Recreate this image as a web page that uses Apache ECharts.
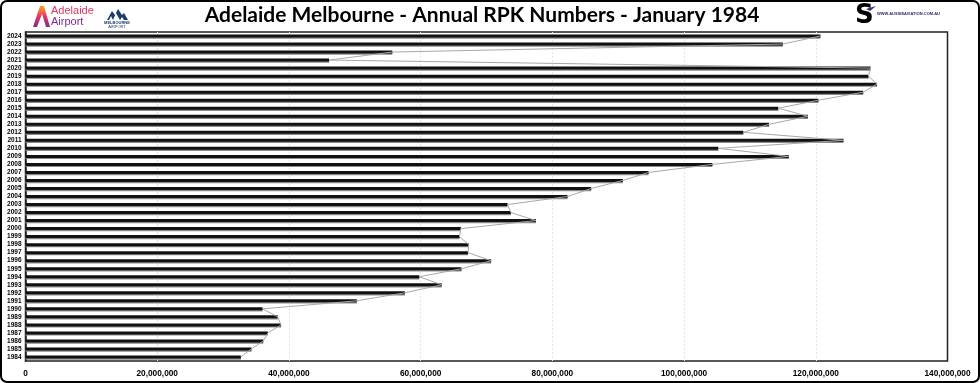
<!DOCTYPE html>
<html>
<head>
<meta charset="utf-8">
<script src="https://cdn.jsdelivr.net/npm/echarts@6/dist/echarts.min.js"></script>
<style>html,body{margin:0;padding:0;background:#fff;}#c{width:980px;height:383px;}</style>
</head>
<body>
<div id="c"></div>
<script>
const years = ['1984','1985','1986','1987','1988','1989','1990','1991','1992','1993','1994','1995','1996','1997','1998','1999','2000','2001','2002','2003','2004','2005','2006','2007','2008','2009','2010','2011','2012','2013','2014','2015','2016','2017','2018','2019','2020','2021','2022','2023','2024'];
const rpk = [32700000,34300000,36100000,36800000,38800000,38300000,36000000,50300000,57600000,63200000,59800000,66200000,70700000,67200000,67300000,65900000,66100000,77500000,73700000,73200000,82300000,85900000,90700000,94600000,104300000,115900000,105200000,124200000,109000000,112900000,118800000,114300000,120400000,127200000,129300000,128000000,128300000,46100000,55700000,115000000,120700000];
const xTicks = [0,20000000,40000000,60000000,80000000,100000000,120000000,140000000];
const titleText = 'Adelaide Melbourne - Annual RPK Numbers - January 1984';

const chart = echarts.init(document.getElementById('c'), null, {renderer:'canvas'});
const fmt = v => v.toLocaleString('en-US');
chart.setOption({
  animation:false,
  backgroundColor:'#fff',
  grid:{left:25.5,right:32.5,top:32,bottom:22,show:true,borderColor:'#222',borderWidth:1.5,backgroundColor:'transparent'},
  xAxis:{type:'value',min:xTicks[0],max:xTicks[xTicks.length-1],interval:20000000,
    axisLine:{show:false},axisTick:{show:false},
    splitLine:{show:true,showMinLine:false,showMaxLine:false,lineStyle:{color:'#e4e4e4',width:1,type:[2,2]}},
    axisLabel:{formatter:fmt,fontFamily:'Liberation Sans',fontWeight:'bold',fontSize:8.3,color:'#000',margin:9}},
  yAxis:{type:'category',data:years,
    axisLine:{show:true,lineStyle:{color:'#222',width:1.5}},axisTick:{show:false},
    axisLabel:{fontFamily:'Liberation Sans',fontWeight:'bold',fontSize:6.5,color:'#000',margin:4,interval:0}},
  series:[
    {type:'bar',data:rpk,barWidth:3,itemStyle:{color:'#111',shadowColor:'#8a8a8a',shadowOffsetY:1.2,shadowBlur:0},z:2},
    {type:'line',data:rpk,symbol:'none',lineStyle:{color:'#a8a8a8',width:1},z:3}
  ],
  graphic:[
    {type:'rect',shape:{x:1,y:1,width:978,height:381,r:6},style:{fill:'none',stroke:'#000',lineWidth:2},z:10},
    {type:'text',x:482,y:5,style:{text:titleText,font:'bold 21px Lato',fill:'#000',align:'center'},z:10},
    // Adelaide Airport logo
    {type:'polygon',shape:{points:[[33,27],[40,6],[44,6],[50,27],[46,27],[42,14],[37,27]]},style:{fill:new echarts.graphic.LinearGradient(0,0,0,1,[{offset:0,color:'#f5a623'},{offset:0.5,color:'#e8336a'},{offset:1,color:'#7b2d8e'}])},z:10},
    {type:'text',x:51,y:5,style:{text:'Adelaide',font:'11px "Liberation Sans Narrow", "Liberation Sans"',fill:'#e5345c'},z:10},
    {type:'text',x:51,y:16,style:{text:'Airport',font:'11px "Liberation Sans Narrow", "Liberation Sans"',fill:'#7b2d8e'},z:10},
    // Melbourne Airport logo
    {type:'polygon',shape:{points:[[107,20],[112,11],[115,15],[118,9],[122,15],[124,13],[128,20],[124,20],[122,17],[120,20],[116,13],[113,20],[111,16],[109,20]]},style:{fill:'#1b3a6f'},z:10},
    {type:'text',x:117,y:21,style:{text:'MELBOURNE',font:'bold 4px "Liberation Sans"',fill:'#1b3a6f',align:'center'},z:10},
    {type:'text',x:117,y:25,style:{text:'AIRPORT',font:'4px "Liberation Sans"',fill:'#1b3a6f',align:'center'},z:10},
    // Aussie Aviation logo
    {type:'text',x:855,y:3,style:{text:'S',font:'bold 26px "DejaVu Sans"',fill:new echarts.graphic.LinearGradient(0,0,1,1,[{offset:0,color:'#f5a623'},{offset:0.5,color:'#e8336a'},{offset:1,color:'#6a2c91'}])},z:10},
    {type:'polygon',shape:{points:[[866,9],[876,6],[870,11]]},style:{fill:'#3b2a7a'},z:10},
    {type:'text',x:877,y:12,style:{text:'WWW.AUSSIEAVIATION.COM.AU',font:'bold 4px "Liberation Sans"',fill:'#2a2a6a'},z:10}
  ]
});
</script>
</body>
</html>
